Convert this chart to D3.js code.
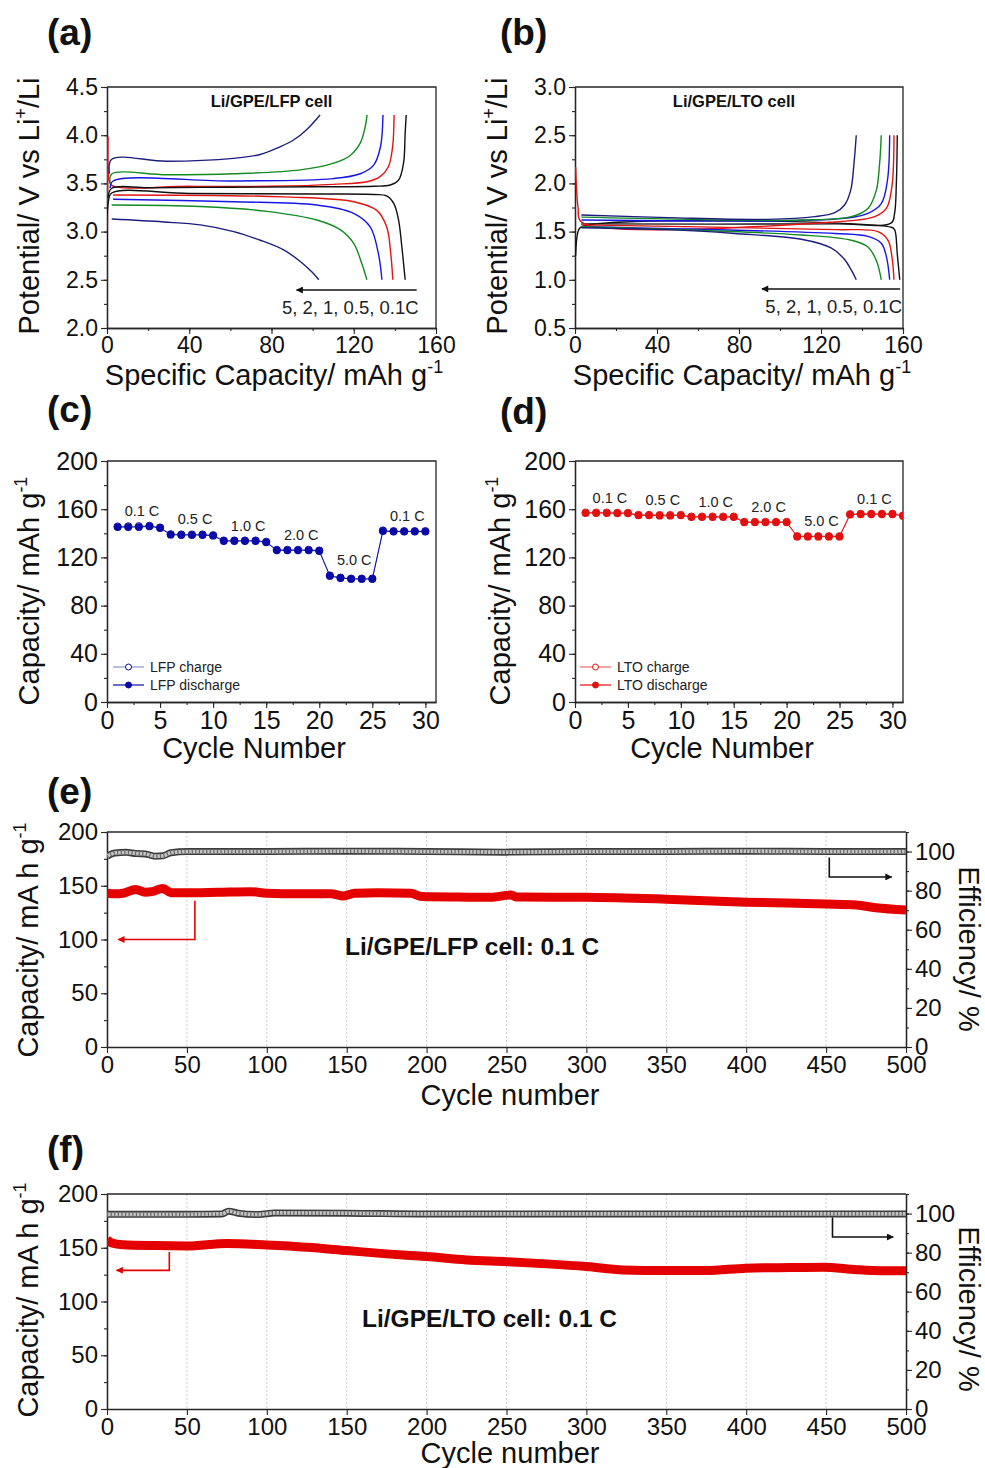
<!DOCTYPE html>
<html>
<head>
<meta charset="utf-8">
<script src="https://cdn.jsdelivr.net/npm/d3@7"></script>
<style>
  body { margin: 0; background: #fff; }
</style>
</head>
<body>
<div id="figure"></div>
<script>
// Define constants
const WIDTH = 985;
const HEIGHT = 1468;
const FONT = '"Liberation Sans", Arial, Helvetica, sans-serif';
const AXIS_COLOUR = "#262626";
const RED = "#e50000";

// C-rates for the (a)/(b) profiles, fastest first
const rates = ["5C", "2C", "1C", "0.5C", "0.1C"];
const rateColours = ["#1d1d7e", "#138a22", "#1616e6", "#e21414", "#111111"];

// (a) Li/GPE/LFP profiles, [capacity mAh/g, potential V]
const lfpCharge5C = [[1.2, 3.6], [2.3, 3.75], [29, 3.73], [61.5, 3.76], [74.4, 3.8], [84.2, 3.88], [90.7, 3.95], [97.2, 4.06], [103.6, 4.21]];
const lfpCharge2C = [[1.5, 3.5], [2.3, 3.597], [29, 3.59], [61.5, 3.6], [94, 3.64], [110.2, 3.71], [118.3, 3.79], [123.2, 3.92], [125.6, 4.09], [126.5, 4.21]];
const lfpCharge1C = [[1.5, 3.45], [3, 3.525], [61.5, 3.525], [110, 3.55], [123.2, 3.6], [129.7, 3.69], [133, 3.88], [134.2, 4.21]];
const lfpCharge0p5C = [[0.2, 3.02], [0.5, 3.98], [0.9, 3.55], [2.3, 3.48], [40, 3.47], [80, 3.47], [110, 3.49], [127, 3.52], [132.8, 3.57], [136.8, 3.67], [138.9, 3.88], [139.6, 4.21]];
const lfpCharge0p1C = [[0.5, 3.35], [2.3, 3.45], [20, 3.455], [60, 3.46], [100, 3.465], [130, 3.47], [137.7, 3.483], [141.8, 3.535], [144.2, 3.71], [145, 4.02], [145.5, 4.21]];
const lfpDischarge5C = [[2.3, 3.13], [27.5, 3.1], [45.4, 3.07], [61.6, 3.0], [74.6, 2.91], [85.9, 2.81], [94, 2.69], [99.7, 2.58], [103, 2.5]];
const lfpDischarge2C = [[2.3, 3.276], [45.4, 3.26], [77.8, 3.21], [102, 3.12], [113.4, 3.02], [119.9, 2.88], [123.9, 2.67], [126.4, 2.5]];
const lfpDischarge1C = [[3, 3.335], [61.5, 3.31], [102, 3.276], [119.9, 3.19], [128, 3.05], [132, 2.77], [133.7, 2.5]];
const lfpDischarge0p5C = [[3, 3.38], [86, 3.36], [120, 3.31], [131.2, 3.22], [136, 3.05], [138, 2.77], [139, 2.5]];
const lfpDischarge0p1C = [[0, 2.75], [0.6, 3.3], [2.3, 3.4], [40, 3.395], [100, 3.39], [130, 3.385], [136, 3.37], [139.5, 3.29], [141.8, 3.12], [143.4, 2.84], [145, 2.5]];

// (b) Li/GPE/LTO profiles
const ltoCharge5C = [[3.1, 1.672], [45.4, 1.645], [94.1, 1.627], [116.9, 1.655], [126.7, 1.696], [131.5, 1.776], [134.5, 1.93], [136.1, 2.21], [137.2, 2.5]];
const ltoCharge2C = [[3.1, 1.65], [110.4, 1.62], [134.8, 1.655], [142.9, 1.74], [147, 1.93], [148.6, 2.21], [149.4, 2.5]];
const ltoCharge1C = [[3.1, 1.62], [126.7, 1.63], [142.9, 1.69], [149.4, 1.79], [152.4, 2.03], [153.5, 2.5]];
const ltoCharge0p5C = [[0.3, 2.17], [1.5, 1.75], [3.1, 1.6], [126.7, 1.6], [146.2, 1.655], [151.9, 1.74], [154.6, 1.97], [155.6, 2.5]];
const ltoCharge0p1C = [[3.1, 1.58], [126.7, 1.58], [154.3, 1.59], [155.9, 1.69], [156.8, 2.03], [157.2, 2.5]];
const ltoDischarge5C = [[3.1, 1.54], [45.4, 1.52], [77.9, 1.48], [110.4, 1.42], [124.9, 1.33], [131.5, 1.21], [134.8, 1.1], [137.2, 1.0]];
const ltoDischarge2C = [[3.1, 1.55], [110.4, 1.465], [134.8, 1.41], [142.9, 1.34], [147, 1.2], [149.4, 1.0]];
const ltoDischarge1C = [[3.1, 1.55], [126.7, 1.48], [142.9, 1.45], [149.4, 1.38], [151.9, 1.24], [153.5, 1.0]];
const ltoDischarge0p5C = [[3.1, 1.57], [126.7, 1.52], [147.8, 1.5], [152.7, 1.41], [154.6, 1.24], [155.6, 1.0]];
const ltoDischarge0p1C = [[0.3, 1.25], [1.5, 1.5], [3.1, 1.55], [154.3, 1.545], [155.9, 1.52], [157.2, 1.27], [158.4, 1.0]];

// (c) LFP rate capability, cycles 1..30
const lfpRateCycles = d3.range(1, 31);
const lfpRateCharge = [145.6, 145.8, 145.9, 146.2, 144.8, 139.2, 139.0, 139.0, 139.0, 138.4, 134.0, 134.0, 134.0, 134.0, 133.0, 126.3, 126.3, 126.3, 126.3, 125.7, 105.0, 103.2, 102.4, 102.4, 102.4, 142.3, 141.8, 141.8, 141.8, 141.8];
const lfpRateDischarge = [145.2, 145.2, 145.2, 145.8, 144.4, 138.9, 138.6, 138.6, 138.6, 138.0, 133.6, 133.6, 133.6, 133.6, 132.5, 125.9, 125.9, 125.9, 125.9, 125.3, 104.6, 102.9, 102.1, 102.1, 102.1, 141.9, 141.4, 141.4, 141.4, 141.4];

// (d) LTO rate capability, cycles 1..31
const ltoRateCycles = d3.range(1, 32);
const ltoRateCharge = [157.2, 157.2, 157.2, 157.0, 157.0, 155.3, 155.3, 155.2, 155.2, 155.3, 153.9, 153.9, 153.9, 153.9, 153.9, 149.5, 149.5, 149.5, 149.5, 149.5, 137.6, 137.6, 137.6, 137.6, 137.6, 155.9, 156.2, 156.2, 156.2, 156.2, 154.8];
const ltoRateDischarge = [156.8, 156.8, 156.8, 156.6, 156.6, 154.9, 154.9, 154.6, 154.6, 154.9, 153.5, 153.5, 153.5, 153.5, 153.5, 149.1, 149.1, 149.1, 149.1, 149.1, 137.2, 137.2, 137.2, 137.2, 137.2, 155.5, 155.8, 155.8, 155.8, 155.8, 154.4];

// rate step labels and the cycle groups they belong to
const rateSteps = ["0.1 C", "0.5 C", "1.0 C", "2.0 C", "5.0 C", "0.1 C"];
const rateStepStart = [1, 6, 11, 16, 21, 26];

// (e) LFP long cycling at 0.1 C: [cycle, capacity] and [cycle, efficiency %]
const lfpCycleCapacity = [[0, 143], [5, 142.5], [10, 143], [18, 146.5], [24, 144], [28, 144.5], [35, 147.5], [40, 143.5], [50, 143.5], [70, 144], [90, 144.5], [100, 143], [120, 142.5], [140, 142.5], [148, 140.5], [155, 143], [170, 143.5], [190, 143], [197, 140], [220, 139.5], [240, 139.3], [253, 141.5], [256, 139.5], [300, 139.3], [350, 137.5], [400, 134.7], [450, 133.1], [469, 132.2], [481, 129.5], [500, 127.5]];
const lfpEfficiency = [[0, 97.6], [5, 99.3], [12, 99.6], [18, 99.0], [24, 98.8], [30, 97.6], [35, 97.8], [40, 99.4], [50, 100], [100, 100], [150, 100.2], [200, 100], [250, 99.7], [300, 100], [350, 100], [400, 100.2], [450, 100], [500, 100]];

// (f) LTO long cycling at 0.1 C
const ltoCycleCapacity = [[0, 157.3], [3, 154.5], [10, 152.8], [30, 152], [50, 151.7], [75, 154], [100, 152.6], [125, 150.5], [150, 147.4], [175, 144.3], [200, 141.8], [225, 138.7], [250, 137], [275, 135], [300, 132.5], [323, 129.4], [350, 128.8], [375, 128.8], [400, 131], [427, 131.6], [448, 131.9], [469, 129.6], [485, 128.6], [500, 128.5]];
const ltoEfficiency = [[0, 99.6], [50, 99.6], [72, 99.8], [76, 101.2], [82, 100.2], [95, 99.5], [105, 100.3], [150, 100.2], [200, 99.8], [250, 99.8], [300, 99.8], [350, 99.8], [400, 99.8], [450, 99.8], [500, 99.8]];

// Set up SVG canvas
const svg = d3.select("#figure").append("svg")
  .attr("width", WIDTH)
  .attr("height", HEIGHT)
  .style("font-family", FONT);

const defs = svg.append("defs");

function arrowMarker(id, colour) {
  defs.append("marker")
    .attr("id", id)
    .attr("viewBox", "0 0 10 10")
    .attr("refX", 9).attr("refY", 5)
    .attr("markerUnits", "userSpaceOnUse")
    .attr("markerWidth", 11).attr("markerHeight", 7)
    .attr("orient", "auto")
    .append("path")
    .attr("d", "M0,0L10,5L0,10z")
    .attr("fill", colour);
}
arrowMarker("arrow-black", "#111");
arrowMarker("arrow-red", RED);

function clipFor(id, box) {
  defs.append("clipPath").attr("id", id)
    .append("rect")
    .attr("x", box.left).attr("y", box.top)
    .attr("width", box.right - box.left)
    .attr("height", box.bottom - box.top);
  return `url(#${id})`;
}

// text with optional superscripts, parts = [[text, isSup], ...]
function richText(sel, parts, size) {
  let raised = false;
  parts.forEach(([t, sup]) => {
    const span = sel.append("tspan").text(t);
    if (sup) {
      span.attr("font-size", size * 0.62).attr("dy", raised ? 0 : -size * 0.42);
      raised = true;
    } else {
      span.attr("dy", raised ? size * 0.42 : 0);
      raised = false;
    }
  });
  return sel;
}

function xTitle(cx, baseline, parts, size) {
  const t = svg.append("text")
    .attr("x", cx).attr("y", baseline)
    .attr("text-anchor", "middle")
    .attr("font-size", size)
    .attr("fill", "#111");
  richText(t, parts, size);
}

function yTitle(x, cy, parts, size, angle) {
  const t = svg.append("text")
    .attr("transform", `translate(${x},${cy}) rotate(${angle})`)
    .attr("text-anchor", "middle")
    .attr("font-size", size)
    .attr("fill", "#111");
  richText(t, parts, size);
}

function panelLabel(x, baseline, label) {
  svg.append("text")
    .attr("x", x).attr("y", baseline)
    .attr("font-size", 37)
    .attr("font-weight", "bold")
    .attr("fill", "#111")
    .text(label);
}

function styleAxis(g, fontSize) {
  g.selectAll(".domain").attr("stroke", AXIS_COLOUR).attr("stroke-width", 1.3);
  g.selectAll(".tick line").attr("stroke", AXIS_COLOUR).attr("stroke-width", 1.1);
  g.selectAll(".tick text")
    .attr("font-size", fontSize)
    .attr("font-family", FONT)
    .attr("fill", "#111");
}

// bottom + left axes with minor ticks, plus top (and optionally right) frame
function drawAxes(box, x, y, o) {
  const g = svg.append("g");
  const bottom = g.append("g").attr("transform", `translate(0,${box.bottom})`);
  if (o.xMinor) bottom.append("g").call(d3.axisBottom(x).tickValues(o.xMinor).tickSize(3).tickSizeOuter(0).tickFormat(""));
  bottom.append("g").call(d3.axisBottom(x).tickValues(o.xTicks).tickSize(6).tickSizeOuter(0).tickPadding(3).tickFormat(o.xFormat));

  const left = g.append("g").attr("transform", `translate(${box.left},0)`);
  if (o.yMinor) left.append("g").call(d3.axisLeft(y).tickValues(o.yMinor).tickSize(3).tickSizeOuter(0).tickFormat(""));
  left.append("g").call(d3.axisLeft(y).tickValues(o.yTicks).tickSize(6).tickSizeOuter(0).tickPadding(3).tickFormat(o.yFormat));

  g.append("path")
    .attr("d", o.rightFrame
      ? `M${box.left},${box.top}H${box.right}V${box.bottom}`
      : `M${box.left},${box.top}H${box.right}`)
    .attr("fill", "none")
    .attr("stroke", AXIS_COLOUR)
    .attr("stroke-width", 1.3);

  styleAxis(g, o.tickFont);
  return g;
}

/* ---------- (a) and (b): charge/discharge profiles ---------- */
function profilePanel(id, box, yDomain, curves, cellLabel, arrow) {
  const x = d3.scaleLinear().domain([0, 160]).range([box.left, box.right]);
  const y = d3.scaleLinear().domain(yDomain).range([box.bottom, box.top]);

  drawAxes(box, x, y, {
    xTicks: d3.range(0, 161, 40),
    xMinor: d3.range(0, 161, 20),
    yTicks: d3.range(yDomain[0], yDomain[1] + 0.01, 0.5),
    yMinor: d3.range(yDomain[0], yDomain[1] + 0.01, 0.25),
    xFormat: d3.format("d"),
    yFormat: d3.format(".1f"),
    tickFont: 23,
    rightFrame: true
  });

  const line = d3.line()
    .x(d => x(d[0]))
    .y(d => y(d[1]))
    .curve(d3.curveCatmullRom.alpha(0.5));

  const g = svg.append("g").attr("clip-path", clipFor(id, box));
  // slowest rate first so faster ones sit on top
  curves.slice().reverse().forEach(c => {
    [c.charge, c.discharge].forEach(pts => {
      g.append("path")
        .datum(pts)
        .attr("fill", "none")
        .attr("stroke", c.colour)
        .attr("stroke-width", 1.4)
        .attr("d", line);
    });
  });

  svg.append("text")
    .attr("x", (box.left + box.right) / 2 + (id === "clip-a" ? 0 : -5))
    .attr("y", box.top + 20)
    .attr("text-anchor", "middle")
    .attr("font-size", 16.5)
    .attr("font-weight", "bold")
    .attr("fill", "#111")
    .text(cellLabel);

  // rate-order arrow
  svg.append("line")
    .attr("x1", x(arrow.from)).attr("x2", x(arrow.to))
    .attr("y1", y(arrow.v)).attr("y2", y(arrow.v))
    .attr("stroke", "#111")
    .attr("stroke-width", 1.6)
    .attr("marker-end", "url(#arrow-black)");

  svg.append("text")
    .attr("x", x(arrow.from) + 2)
    .attr("y", y(arrow.v) + 24)
    .attr("text-anchor", "end")
    .attr("font-size", 18.5)
    .attr("fill", "#222")
    .text(rates.map(r => r.replace("C", "")).join(", ") + "C");
}

const boxA = {left: 107, right: 436, top: 87, bottom: 328};
const boxB = {left: 575, right: 903, top: 87, bottom: 328};

profilePanel("clip-a", boxA, [2.0, 4.5], [
  {colour: rateColours[0], charge: lfpCharge5C, discharge: lfpDischarge5C},
  {colour: rateColours[1], charge: lfpCharge2C, discharge: lfpDischarge2C},
  {colour: rateColours[2], charge: lfpCharge1C, discharge: lfpDischarge1C},
  {colour: rateColours[4], charge: lfpCharge0p1C, discharge: lfpDischarge0p1C},
  {colour: rateColours[3], charge: lfpCharge0p5C, discharge: lfpDischarge0p5C}
], "Li/GPE/LFP cell", {from: 150.6, to: 92.2, v: 2.394});

profilePanel("clip-b", boxB, [0.5, 3.0], [
  {colour: rateColours[0], charge: ltoCharge5C, discharge: ltoDischarge5C},
  {colour: rateColours[1], charge: ltoCharge2C, discharge: ltoDischarge2C},
  {colour: rateColours[2], charge: ltoCharge1C, discharge: ltoDischarge1C},
  {colour: rateColours[3], charge: ltoCharge0p5C, discharge: ltoDischarge0p5C},
  {colour: rateColours[4], charge: ltoCharge0p1C, discharge: ltoDischarge0p1C}
], "Li/GPE/LTO cell", {from: 158.6, to: 91.2, v: 0.905});

const profileXTitle = [["Specific Capacity/ mAh g", false], ["-1", true]];
const profileYTitle = [["Potential/ V vs Li", false], ["+", true], ["/Li", false]];
xTitle(274, 385, profileXTitle, 29);
xTitle(742, 385, profileXTitle, 29);
yTitle(39, 206, profileYTitle, 29, -90);
yTitle(507, 206, profileYTitle, 29, -90);

/* ---------- (c) and (d): rate capability ---------- */
function ratePanel(id, box, cycles, charge, discharge, style, legendNames) {
  const x = d3.scaleLinear().domain([0, 31]).range([box.left, box.right]);
  const y = d3.scaleLinear().domain([0, 200]).range([box.bottom, box.top]);

  drawAxes(box, x, y, {
    xTicks: d3.range(0, 31, 5),
    xMinor: d3.range(0, 31, 2.5),
    yTicks: d3.range(0, 201, 40),
    yMinor: d3.range(0, 201, 20),
    xFormat: d3.format("d"),
    yFormat: d3.format("d"),
    tickFont: 25,
    rightFrame: true
  });

  const g = svg.append("g").attr("clip-path", clipFor(id, box));
  const line = d3.line().x(d => x(d[0])).y(d => y(d[1]));

  const chargePts = cycles.map((c, i) => [c, charge[i]]);
  const dischargePts = cycles.map((c, i) => [c, discharge[i]]);

  g.append("path").datum(chargePts)
    .attr("fill", "none").attr("stroke", style.light).attr("stroke-width", 1)
    .attr("d", line);
  g.selectAll(".charge").data(chargePts).join("circle")
    .attr("class", "charge")
    .attr("cx", d => x(d[0])).attr("cy", d => y(d[1])).attr("r", 3.6)
    .attr("fill", "#fff").attr("stroke", style.dark).attr("stroke-width", 1);

  g.append("path").datum(dischargePts)
    .attr("fill", "none").attr("stroke", style.dark).attr("stroke-width", 1)
    .attr("d", line);
  g.selectAll(".discharge").data(dischargePts).join("circle")
    .attr("class", "discharge")
    .attr("cx", d => x(d[0])).attr("cy", d => y(d[1])).attr("r", 3.9)
    .attr("fill", style.dark);

  // step labels above each group of five cycles
  rateSteps.forEach((label, i) => {
    const groupIdx = d3.range(rateStepStart[i] - 1, rateStepStart[i] + 4);
    const top = d3.max(groupIdx, j => Math.max(charge[j], discharge[j]));
    svg.append("text")
      .attr("x", x(d3.mean(groupIdx, j => cycles[j]) + 0.3))
      .attr("y", y(top) - 10)
      .attr("text-anchor", "middle")
      .attr("font-size", 14.5)
      .attr("fill", "#222")
      .text(label);
  });

  // legend
  const lx = box.left + style.legendX;
  [[legendNames[0], false, style.light], [legendNames[1], true, style.dark]].forEach(([name, filled, lineColour], i) => {
    const ly = 667 + i * 18;
    svg.append("line")
      .attr("x1", lx).attr("x2", lx + 31).attr("y1", ly).attr("y2", ly)
      .attr("stroke", lineColour).attr("stroke-width", 1.2);
    svg.append("circle")
      .attr("cx", lx + 15.5).attr("cy", ly).attr("r", 3)
      .attr("fill", filled ? style.dark : "#fff")
      .attr("stroke", style.dark).attr("stroke-width", 1);
    svg.append("text")
      .attr("x", lx + 37).attr("y", ly + 5)
      .attr("font-size", 14)
      .attr("fill", "#222")
      .text(name);
  });
}

const boxC = {left: 107, right: 436, top: 461, bottom: 702};
const boxD = {left: 575, right: 903, top: 461, bottom: 702};

ratePanel("clip-c", boxC, lfpRateCycles, lfpRateCharge, lfpRateDischarge,
  {dark: "#0a0aa8", light: "#8d8dd2", legendX: 6}, ["LFP charge", "LFP discharge"]);
ratePanel("clip-d", boxD, ltoRateCycles, ltoRateCharge, ltoRateDischarge,
  {dark: "#e31010", light: "#ea6a6a", legendX: 5}, ["LTO charge", "LTO discharge"]);

const rateYTitle = [["Capacity/ mAh g", false], ["-1", true]];
xTitle(254, 758, [["Cycle Number", false]], 29);
xTitle(722, 758, [["Cycle Number", false]], 29);
yTitle(39, 591, rateYTitle, 29, -90);
yTitle(510, 591, rateYTitle, 29, -90);

/* ---------- (e) and (f): long-term cycling ---------- */
function cyclingPanel(id, box, capacity, efficiency, cellText, textPos, redArrow, blackArrow) {
  const x = d3.scaleLinear().domain([0, 500]).range([box.left, box.right]);
  const y = d3.scaleLinear().domain([0, 200]).range([box.bottom, box.top]);
  const yEff = d3.scaleLinear().domain([0, 110]).range([box.bottom, box.top]);

  // dotted vertical grid
  svg.append("g").selectAll("line")
    .data(d3.range(50, 500, 50))
    .join("line")
    .attr("x1", d => x(d)).attr("x2", d => x(d))
    .attr("y1", box.top).attr("y2", box.bottom)
    .attr("stroke", "#c8c8c8")
    .attr("stroke-width", 0.9)
    .attr("stroke-dasharray", "2,2");

  drawAxes(box, x, y, {
    xTicks: d3.range(0, 501, 50),
    yTicks: d3.range(0, 201, 50),
    yMinor: d3.range(0, 201, 25),
    xFormat: d3.format("d"),
    yFormat: d3.format("d"),
    tickFont: 24,
    rightFrame: false
  });

  const right = svg.append("g").attr("transform", `translate(${box.right},0)`);
  right.append("g").call(d3.axisRight(yEff).tickValues(d3.range(0, 111, 10)).tickSize(3).tickSizeOuter(0).tickFormat(""));
  right.append("g").call(d3.axisRight(yEff).tickValues(d3.range(0, 101, 20)).tickSize(6).tickSizeOuter(0).tickPadding(3).tickFormat(d3.format("d")));
  styleAxis(right, 24);

  const g = svg.append("g").attr("clip-path", clipFor(id, box));

  // coulombic efficiency: dense open-circle band
  const effLine = d3.line().x(d => x(d[0])).y(d => yEff(d[1])).curve(d3.curveMonotoneX);
  g.append("path").datum(efficiency)
    .attr("fill", "none").attr("stroke", "#3c3c3c").attr("stroke-width", 7)
    .attr("d", effLine);
  g.append("path").datum(efficiency)
    .attr("fill", "none").attr("stroke", "#c4c4c4").attr("stroke-width", 3.8)
    .attr("d", effLine);
  g.append("path").datum(efficiency)
    .attr("fill", "none").attr("stroke", "#666").attr("stroke-width", 3.8)
    .attr("stroke-dasharray", "1.2,2.4")
    .attr("d", effLine);

  // discharge capacity: thick red band
  const capLine = d3.line().x(d => x(d[0])).y(d => y(d[1])).curve(d3.curveMonotoneX);
  g.append("path").datum(capacity)
    .attr("fill", "none").attr("stroke", RED).attr("stroke-width", 9)
    .attr("d", capLine);

  // axis-pointer arrows
  svg.append("path")
    .attr("d", `M${x(redArrow.cycle)},${y(redArrow.from)}V${y(redArrow.to)}H${x(redArrow.end)}`)
    .attr("fill", "none").attr("stroke", RED).attr("stroke-width", 1.6)
    .attr("marker-end", "url(#arrow-red)");
  svg.append("path")
    .attr("d", `M${x(blackArrow.cycle)},${yEff(blackArrow.from)}V${yEff(blackArrow.to)}H${x(blackArrow.end)}`)
    .attr("fill", "none").attr("stroke", "#111").attr("stroke-width", 1.6)
    .attr("marker-end", "url(#arrow-black)");

  svg.append("text")
    .attr("x", textPos[0]).attr("y", textPos[1])
    .attr("font-size", 24.5)
    .attr("font-weight", "bold")
    .attr("fill", "#111")
    .text(cellText);
}

const boxE = {left: 107, right: 906, top: 832, bottom: 1047};
const boxF = {left: 107, right: 906, top: 1194, bottom: 1409};

cyclingPanel("clip-e", boxE, lfpCycleCapacity, lfpEfficiency, "Li/GPE/LFP cell: 0.1 C", [345, 955],
  {cycle: 55, from: 136, to: 100, end: 7},
  {cycle: 452, from: 97, to: 87, end: 491});
cyclingPanel("clip-f", boxF, ltoCycleCapacity, ltoEfficiency, "Li/GPE/LTO cell: 0.1 C", [362, 1327],
  {cycle: 39, from: 146, to: 129, end: 6},
  {cycle: 454, from: 98, to: 88, end: 492});

const cycYTitle = [["Capacity/ mA h g", false], ["-1", true]];
xTitle(510, 1105, [["Cycle number", false]], 29);
xTitle(510, 1463, [["Cycle number", false]], 29);
yTitle(38, 940, cycYTitle, 29, -90);
yTitle(38, 1300, cycYTitle, 29, -90);
yTitle(959, 949, [["Efficiency/ %", false]], 29, 90);
yTitle(959, 1309, [["Efficiency/ %", false]], 29, 90);

/* ---------- panel letters ---------- */
panelLabel(47, 45, "(a)");
panelLabel(500, 45, "(b)");
panelLabel(47, 422, "(c)");
panelLabel(500, 424, "(d)");
panelLabel(47, 804, "(e)");
panelLabel(47, 1162, "(f)");
</script>
</body>
</html>
